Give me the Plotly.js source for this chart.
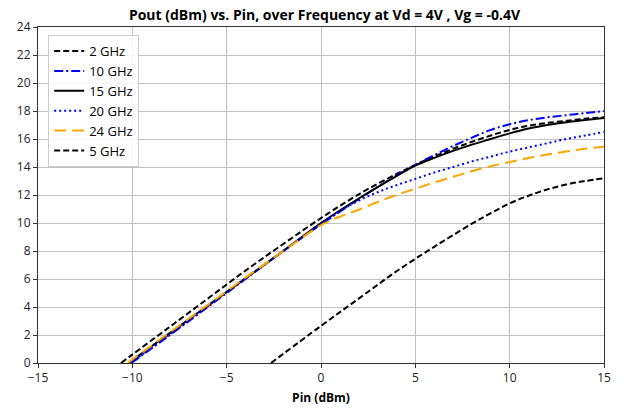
<!DOCTYPE html>
<html>
<head>
<meta charset="utf-8">
<script src="https://cdn.plot.ly/plotly-3.0.1.min.js"></script>
<style>html,body{margin:0;padding:0;background:#fff;}#chart{width:624px;height:412px;}</style>
</head>
<body>
<div id="chart"></div>
<script>
const titleText = "Pout (dBm) vs. Pin, over Frequency at Vd = 4V , Vg = -0.4V";
const xTitle = "Pin (dBm)";

const x2 = [-10.6,-10,-8,-6,-4,-2,0,2,4,5,6,7,8,9,10,11,12,13,14,15];
const y2 = [0,0.6,2.6,4.6,6.6,8.5,10.35,12.05,13.5,14.15,14.75,15.3,15.8,16.25,16.65,16.95,17.15,17.3,17.45,17.55];

const x10 = [-10.05,-8,-6,-4,-2,0,2,4,5,6,7,8,9,10,11,12,13,14,15];
const y10 = [0,2.0,4.0,6.0,8.0,9.9,11.7,13.4,14.15,14.85,15.5,16.1,16.65,17.05,17.35,17.55,17.7,17.85,18.0];

const x15 = [-10.2,-8,-6,-4,-2,0,2,4,5,6,7,8,9,10,11,12,13,14,15];
const y15 = [0,2.15,4.1,6.05,8.0,10.0,11.75,13.35,14.1,14.65,15.15,15.6,16.0,16.4,16.75,17.0,17.2,17.35,17.5];

const x20 = [-10.1,-8,-6,-4,-2,0,1,2,3,4,5,6,7,8,9,10,11,12,13,14,15];
const y20 = [0,2.05,4.05,6.05,8.0,9.95,10.85,11.6,12.2,12.7,13.15,13.6,14.0,14.4,14.75,15.1,15.4,15.7,16.0,16.25,16.5];

const x24 = [-10.25,-8,-6,-4,-2,-1,0,1,2,3,4,5,6,7,8,9,10,11,12,13,14,15];
const y24 = [0,2.2,4.15,6.1,8.0,8.95,9.85,10.45,10.95,11.5,12.0,12.45,12.9,13.3,13.7,14.05,14.35,14.65,14.9,15.1,15.3,15.45];

const x5 = [-2.65,0,2,4,6,8,9,10,11,12,13,14,15];
const y5 = [0,2.65,4.6,6.55,8.3,9.95,10.7,11.4,11.95,12.4,12.75,13.0,13.2];

const xTicks = [-15,-10,-5,0,5,10,15];
const yTicks = [0,2,4,6,8,10,12,14,16,18,20,22,24];

const traces = [
  {x:x2, y:y2, name:"2 GHz", line:{color:"#000000", dash:"6px,3px", width:2}},
  {x:x10, y:y10, name:"10 GHz", line:{color:"#0000ff", dash:"9px,3px,2px,3px", width:2}},
  {x:x15, y:y15, name:"15 GHz", line:{color:"#000000", dash:"solid", width:2}},
  {x:x20, y:y20, name:"20 GHz", line:{color:"#0000ff", dash:"2px,3px", width:2}},
  {x:x24, y:y24, name:"24 GHz", line:{color:"#ffa500", dash:"12px,6px", width:2}},
  {x:x5, y:y5, name:"5 GHz", line:{color:"#000000", dash:"6px,3px", width:2}}
].map(t => Object.assign({type:"scatter", mode:"lines"}, t, {line:Object.assign({shape:"spline"}, t.line)}));

const layout = {
  width:624, height:412,
  margin:{l:38, r:20, t:27, b:49},
  paper_bgcolor:"#ffffff", plot_bgcolor:"#ffffff",
  font:{family:"Open Sans, sans-serif", size:12, color:"#222"},
  title:{text:"<b>"+titleText+"</b>", x:0.52, xanchor:"center", y:0.975, yanchor:"top", font:{size:14, color:"#000"}},
  xaxis:{range:[-15,15], tickvals:xTicks, showgrid:true, gridcolor:"#c0c0c0", gridwidth:1,
         showline:true, linecolor:"#333", linewidth:1, mirror:true, ticks:"outside", ticklen:4, tickcolor:"#333",
         zeroline:false, tickfont:{size:12, color:"#222"},
         title:{text:"<b>"+xTitle+"</b>", font:{size:12, color:"#000"}, standoff:8}},
  yaxis:{range:[0,24], tickvals:yTicks, showgrid:true, gridcolor:"#c0c0c0", gridwidth:1,
         showline:true, linecolor:"#333", linewidth:1, mirror:true, ticks:"outside", ticklen:4, tickcolor:"#333",
         zeroline:false, tickfont:{size:12, color:"#222"}},
  legend:{x:0.018, y:0.976, xanchor:"left", yanchor:"top", bgcolor:"rgba(255,255,255,0.85)",
          bordercolor:"#cccccc", borderwidth:1, font:{size:13, color:"#000"}, itemwidth:30, tracegroupgap:0},
  showlegend:true
};
Plotly.newPlot("chart", traces, layout, {displayModeBar:false, staticPlot:true});
</script>
</body>
</html>
